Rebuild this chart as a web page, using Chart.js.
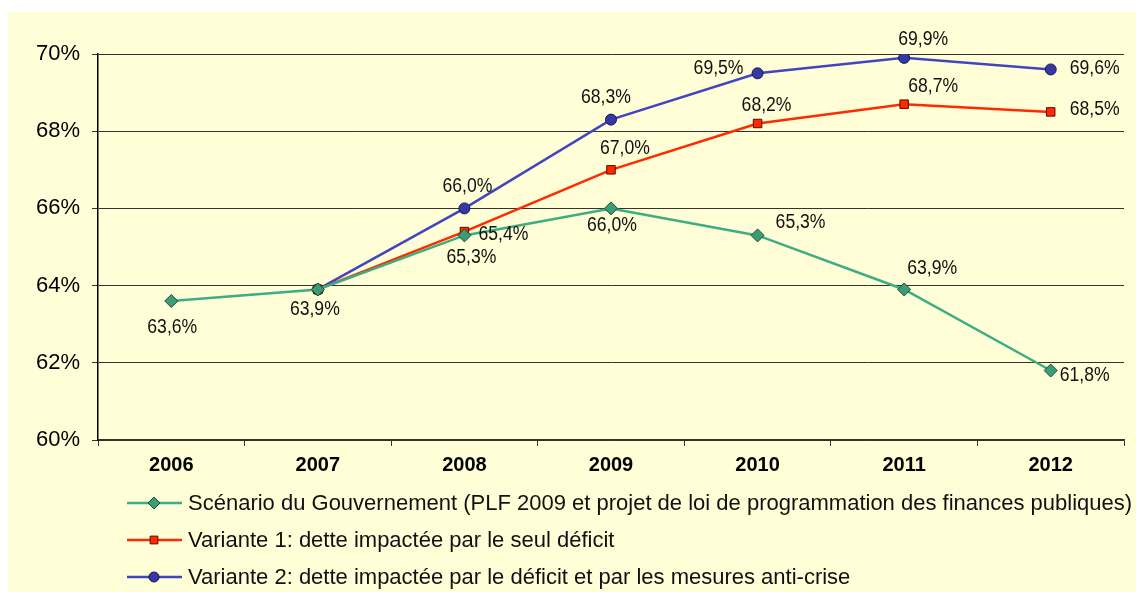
<!DOCTYPE html>
<html>
<head>
<meta charset="utf-8">
<script src="https://cdn.jsdelivr.net/npm/chart.js@4"></script>
<style>
  html, body { margin: 0; padding: 0; background: #ffffff; }
  #wrap { position: relative; width: 1136px; height: 592px; }
  #bg { position: absolute; left: 8px; top: 12px; right: 0; bottom: 0; background: #fffed6; }
  canvas { position: absolute; left: 0; top: 0; }
</style>
</head>
<body>
<div id="wrap">
  <div id="bg"></div>
  <canvas id="chart" width="1136" height="592"></canvas>
</div>
<script>
const years = ["2006", "2007", "2008", "2009", "2010", "2011", "2012"];
const gouvernement = [63.6, 63.9, 65.3, 66.0, 65.3, 63.9, 61.8];
const variante1 = [null, 63.9, 65.4, 67.0, 68.2, 68.7, 68.5];
const variante2 = [null, 63.9, 66.0, 68.3, 69.5, 69.9, 69.6];
const yTicks = [60, 62, 64, 66, 68, 70];

const seriesNames = [
  "Scénario du Gouvernement (PLF 2009 et projet de loi de programmation des finances publiques)",
  "Variante 1: dette impactée par le seul déficit",
  "Variante 2: dette impactée par le déficit et par les mesures anti-crise"
];

// where each value label sits relative to its point: [dx, dy, align]
const labelSpots = [
  [[1, 26, "center"], [-3, 20, "center"], [7, 22, "center"], [1, 17, "center"], [43, -13, "center"], [28, -21, "center"], [9, 5, "left"]],
  [null, null, [14, 3, "left"], [14, -21, "center"], [9, -18, "center"], [29, -18, "center"], [19, -2, "left"]],
  [null, null, [3, -22, "center"], [-5, -22, "center"], [-39, -5, "center"], [19, -18, "center"], [19, -1, "left"]]
];

const fmt = v => v.toFixed(1).replace(".", ",") + "%";
const FONT = "'Liberation Sans', Arial, sans-serif";

const valueLabels = {
  id: "valueLabels",
  afterDatasetsDraw(chart) {
    const ctx = chart.ctx;
    const sx = 0.88; // labels in the original are slightly condensed
    chart.data.datasets.forEach((ds, i) => {
      const meta = chart.getDatasetMeta(i);
      meta.data.forEach((pt, j) => {
        const spot = labelSpots[i][j];
        if (ds.data[j] == null || !spot) return;
        ctx.save();
        ctx.font = "20px " + FONT;
        ctx.fillStyle = "#111111";
        ctx.textBaseline = "middle";
        ctx.textAlign = spot[2];
        ctx.translate(pt.x + spot[0], pt.y + spot[1]);
        ctx.scale(sx, 1);
        ctx.fillText(fmt(ds.data[j]), 0, 0);
        ctx.restore();
      });
    });
  }
};

const lineLegend = {
  id: "lineLegend",
  afterDraw(chart) {
    const ctx = chart.ctx;
    ctx.save();
    ctx.font = "22px " + FONT;
    ctx.textBaseline = "middle";
    ctx.textAlign = "left";
    const rows = [503, 540, 577];
    chart.data.datasets.forEach((ds, i) => {
      const y = rows[i];
      ctx.strokeStyle = ds.borderColor;
      ctx.lineWidth = 2.5;
      ctx.beginPath();
      ctx.moveTo(127, y);
      ctx.lineTo(182, y);
      ctx.stroke();
      ctx.fillStyle = ds.pointBackgroundColor;
      ctx.strokeStyle = ds.pointBorderColor;
      ctx.lineWidth = 1;
      Chart.helpers.drawPoint(ctx, { pointStyle: ds.pointStyle, radius: ds.pointRadius - 0.5, borderWidth: 1 }, 154, y);
      ctx.fillStyle = "#111111";
      ctx.fillText(seriesNames[i], 188, y + 1);
    });
    ctx.restore();
  }
};

new Chart(document.getElementById("chart"), {
  type: "line",
  data: {
    labels: years,
    datasets: [
      {
        label: seriesNames[0],
        data: gouvernement,
        borderColor: "#3cad85",
        borderWidth: 2.5,
        pointStyle: "rectRot",
        pointRadius: 6.5,
        pointBackgroundColor: "#3a9d74",
        pointBorderColor: "#1e4a38",
        pointBorderWidth: 1
      },
      {
        label: seriesNames[1],
        data: variante1,
        borderColor: "#ff2a00",
        borderWidth: 2.5,
        pointStyle: "rect",
        pointRadius: 6,
        pointBackgroundColor: "#ff2a00",
        pointBorderColor: "#5a0a00",
        pointBorderWidth: 1
      },
      {
        label: seriesNames[2],
        data: variante2,
        borderColor: "#4046c0",
        borderWidth: 2.5,
        pointStyle: "circle",
        pointRadius: 5.5,
        pointBackgroundColor: "#3638a8",
        pointBorderColor: "#15164a",
        pointBorderWidth: 1
      }
    ]
  },
  options: {
    responsive: false,
    animation: false,
    layout: { padding: { top: 54, right: 12, left: 0, bottom: 0 } },
    plugins: {
      legend: { display: false },
      tooltip: { enabled: false }
    },
    scales: {
      x: {
        afterFit: s => { s.height = 152; },
        offset: true,
        grid: {
          offset: true,
          drawOnChartArea: false,
          drawTicks: true,
          tickLength: 6,
          color: "#333333"
        },
        border: { color: "#333333", width: 1.5 },
        ticks: {
          color: "#000000",
          padding: 7,
          font: { family: FONT, size: 20, weight: "bold" }
        }
      },
      y: {
        min: yTicks[0],
        max: yTicks[yTicks.length - 1],
        afterFit: s => { s.width = 98; },
        afterBuildTicks: s => { s.ticks = yTicks.map(v => ({ value: v })); },
        grid: {
          color: "#333333",
          lineWidth: 1,
          drawTicks: true,
          tickLength: 6
        },
        border: { color: "#000000", width: 1.5 },
        ticks: {
          color: "#000000",
          padding: 12,
          font: { family: FONT, size: 22 },
          callback: v => v + "%"
        }
      }
    }
  },
  plugins: [valueLabels, lineLegend]
});
</script>
</body>
</html>
